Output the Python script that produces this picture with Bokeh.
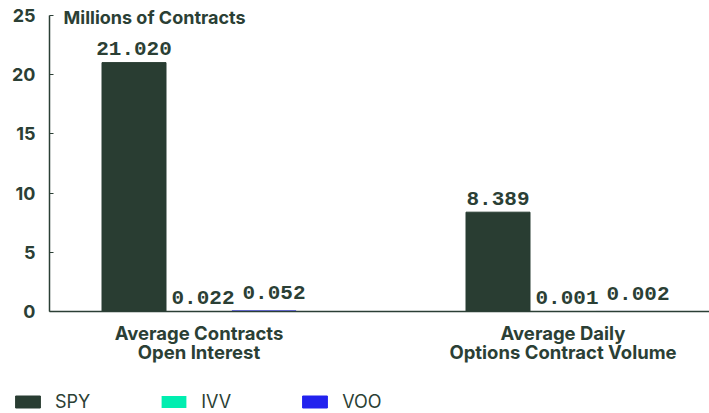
from bokeh.plotting import figure
from bokeh.models import (Range1d, FixedTicker, Label, Legend, LegendItem, ColumnDataSource,
                          LinearAxis)
from bokeh.core.properties import value
from bokeh.embed import file_html
from bokeh.resources import INLINE

# ---- data ----
groups = ["Average Contracts\nOpen Interest", "Average Daily\nOptions Contract Volume"]
series = ["SPY", "IVV", "VOO"]
spy = [21.020, 8.389]
ivv = [0.022, 0.001]
voo = [0.052, 0.002]
y_ticks = [0, 5, 10, 15, 20, 25]
y_title = "Millions of Contracts"

colors = {"SPY": "#293d32", "IVV": "#00eeb0", "VOO": "#2222ee"}
outline = {"SPY": "#293d32", "IVV": None, "VOO": "#2222ee"}
label_dx = {"SPY": 0, "IVV": 4, "VOO": 10}      # label nudges (style)
label_dy = {"SPY": -14, "IVV": -14, "VOO": -18}
text_color = "#2b3f35"

W, H = 709, 413
ppu_y = (311 - 15) / 25.0
ppu_x = 364.0
x0 = -198.5 / ppu_x
y0 = -(H - 311) / ppu_y
p = figure(width=W, height=H, output_backend="svg", toolbar_location=None,
           x_range=Range1d(x0, x0 + W / ppu_x), y_range=Range1d(y0, y0 + H / ppu_y),
           x_axis_location=None, y_axis_location=None,
           min_border_left=0, min_border_right=0, min_border_top=0, min_border_bottom=0)
p.outline_line_color = None
p.grid.visible = False
p.background_fill_color = "white"

axis_x = x0 + 49 / ppu_x

bw = 65 / ppu_x
offsets = [-bw, 0.0, bw]
renderers = {}
for name, vals, off in zip(series, [spy, ivv, voo], offsets):
    xs = [i + off for i in range(len(groups))]
    src = ColumnDataSource(dict(x=xs, top=vals, lab=["%.3f" % v for v in vals]))
    r = p.vbar(x="x", top="top", width=bw - 1 / ppu_x, source=src, fill_color=colors[name],
               line_color=outline[name], line_width=1)
    renderers[name] = r
    p.text(x="x", y="top", text="lab", source=src, text_align="center", text_baseline="alphabetic",
           x_offset=label_dx[name], y_offset=label_dy[name],
           text_font=value("Liberation Mono"), text_font_style="bold",
           text_font_size="21px", text_color=text_color)

# y axis (fixed at left edge of plot area)
ya = LinearAxis(fixed_location=axis_x, bounds=(0, 25), ticker=FixedTicker(ticks=y_ticks))
ya.axis_line_color = text_color
ya.axis_line_width = 1.5
ya.major_tick_line_color = text_color
ya.major_tick_out = 0
ya.major_tick_in = 4
ya.minor_tick_line_color = None
ya.major_label_standoff = 14
ya.major_label_text_font = "Inter"
ya.major_label_text_font_style = "bold"
ya.major_label_text_font_size = "18px"
ya.major_label_text_color = text_color
p.add_layout(ya, "left")

# x axis (fixed at y = 0)
xa = LinearAxis(fixed_location=0, bounds=(axis_x, x0 + W / ppu_x),
                ticker=FixedTicker(ticks=list(range(len(groups)))))
xa.major_label_overrides = {i: g for i, g in enumerate(groups)}
xa.axis_line_color = text_color
xa.axis_line_width = 1.5
xa.major_tick_line_color = None
xa.minor_tick_line_color = None
xa.major_label_standoff = 4
xa.major_label_text_font = "Inter"
xa.major_label_text_font_style = "bold"
xa.major_label_text_font_size = "18.5px"
xa.major_label_text_color = text_color
xa.major_label_text_line_height = 0.9
p.add_layout(xa, "below")

# title label at top of axis
p.add_layout(Label(x=63, y=25, x_units="screen", y_units="data", text=y_title,
                   text_font="Inter", text_font_style="bold", text_font_size="18px",
                   text_color=text_color, text_baseline="middle", y_offset=-2))

legend = Legend(items=[LegendItem(label=s, renderers=[renderers[s]]) for s in series],
                orientation="horizontal", location=(12, 1),
                border_line_color=None, background_fill_alpha=0,
                glyph_width=31, glyph_height=15, label_standoff=12, spacing=68,
                padding=0, margin=0, label_text_font="Inter", label_text_font_size="18px",
                label_text_color=text_color)
p.add_layout(legend, "center")

open("out.html", "w").write(file_html(p, INLINE))
